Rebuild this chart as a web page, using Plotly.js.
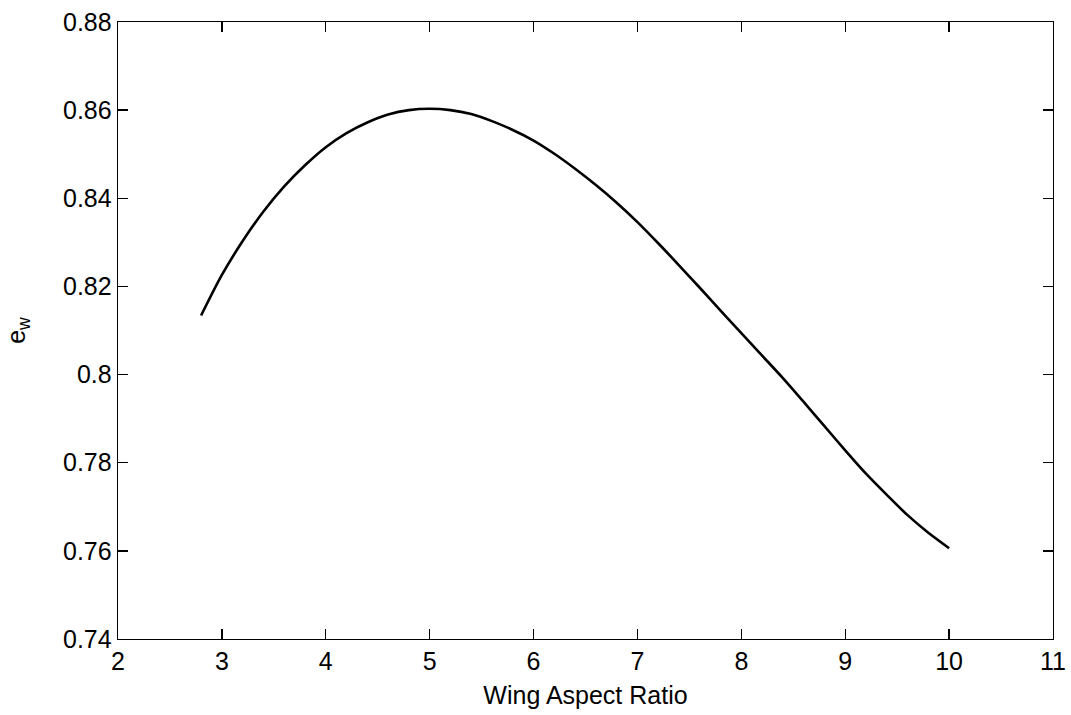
<!DOCTYPE html>
<html>
<head>
<meta charset="utf-8">
<script src="https://cdn.plot.ly/plotly-3.0.1.min.js"></script>
<style>html,body{margin:0;padding:0;background:#fff;}#chart{width:1071px;height:715px;}</style>
</head>
<body>
<div id="chart"></div>
<script>
// Wing aspect ratio (x) and Oswald efficiency e_w (y)
const aspectRatio = [2.8, 3.0, 3.2, 3.4, 3.6, 3.8, 4.0, 4.2, 4.4, 4.6, 4.8, 5.0, 5.2, 5.4, 5.6, 5.8, 6.0, 6.2, 6.4, 6.6, 6.8, 7.0, 7.2, 7.4, 7.6, 7.8, 8.0, 8.2, 8.4, 8.6, 8.8, 9.0, 9.2, 9.4, 9.6, 9.8, 10.0];
const ew = [0.8134, 0.8226, 0.8303, 0.8370, 0.8427, 0.8475, 0.8516, 0.8548, 0.8572, 0.8590, 0.8600, 0.8603, 0.8600, 0.8591, 0.8575, 0.8555, 0.8531, 0.8501, 0.8467, 0.8430, 0.8390, 0.8346, 0.8298, 0.8248, 0.8197, 0.8145, 0.8094, 0.8043, 0.7992, 0.7938, 0.7883, 0.7828, 0.7775, 0.7727, 0.7681, 0.7641, 0.7606];
const xTickVals = [2, 3, 4, 5, 6, 7, 8, 9, 10, 11];
const xTickText = ['2', '3', '4', '5', '6', '7', '8', '9', '10', '11'];
const yTickVals = [0.74, 0.76, 0.78, 0.80, 0.82, 0.84, 0.86, 0.88];
const yTickText = ['0.74', '0.76', '0.78', '0.8', '0.82', '0.84', '0.86', '0.88'];

const font = {family: '"Liberation Sans", Arial, sans-serif', size: 25, color: '#000'};

const trace = {
  x: aspectRatio, y: ew, type: 'scatter', mode: 'lines',
  line: {color: '#000', width: 2.6, shape: 'spline', smoothing: 0.8},
  hoverinfo: 'skip'
};

const axisCommon = {
  showline: true, linecolor: '#000', linewidth: 1.3, mirror: 'ticks',
  ticks: 'inside', ticklen: 10, tickwidth: 1.3, tickcolor: '#000',
  showgrid: false, zeroline: false, tickfont: font, fixedrange: true
};

const layout = {
  width: 1071, height: 715,
  margin: {l: 118, r: 18, t: 22, b: 76, pad: 0},
  paper_bgcolor: '#fff', plot_bgcolor: '#fff',
  font: font,
  showlegend: false,
  xaxis: Object.assign({}, axisCommon, {
    range: [2, 11], tickmode: 'array', tickvals: xTickVals, ticktext: xTickText,
    title: {text: 'Wing Aspect Ratio', font: font, standoff: 12}
  }),
  yaxis: Object.assign({}, axisCommon, {
    range: [0.74, 0.88], tickmode: 'array', tickvals: yTickVals, ticktext: yTickText,
    title: {text: 'e<sub>w</sub>', font: font, standoff: 30}
  })
};

Plotly.newPlot('chart', [trace], layout, {displayModeBar: false, staticPlot: true});
</script>
</body>
</html>
